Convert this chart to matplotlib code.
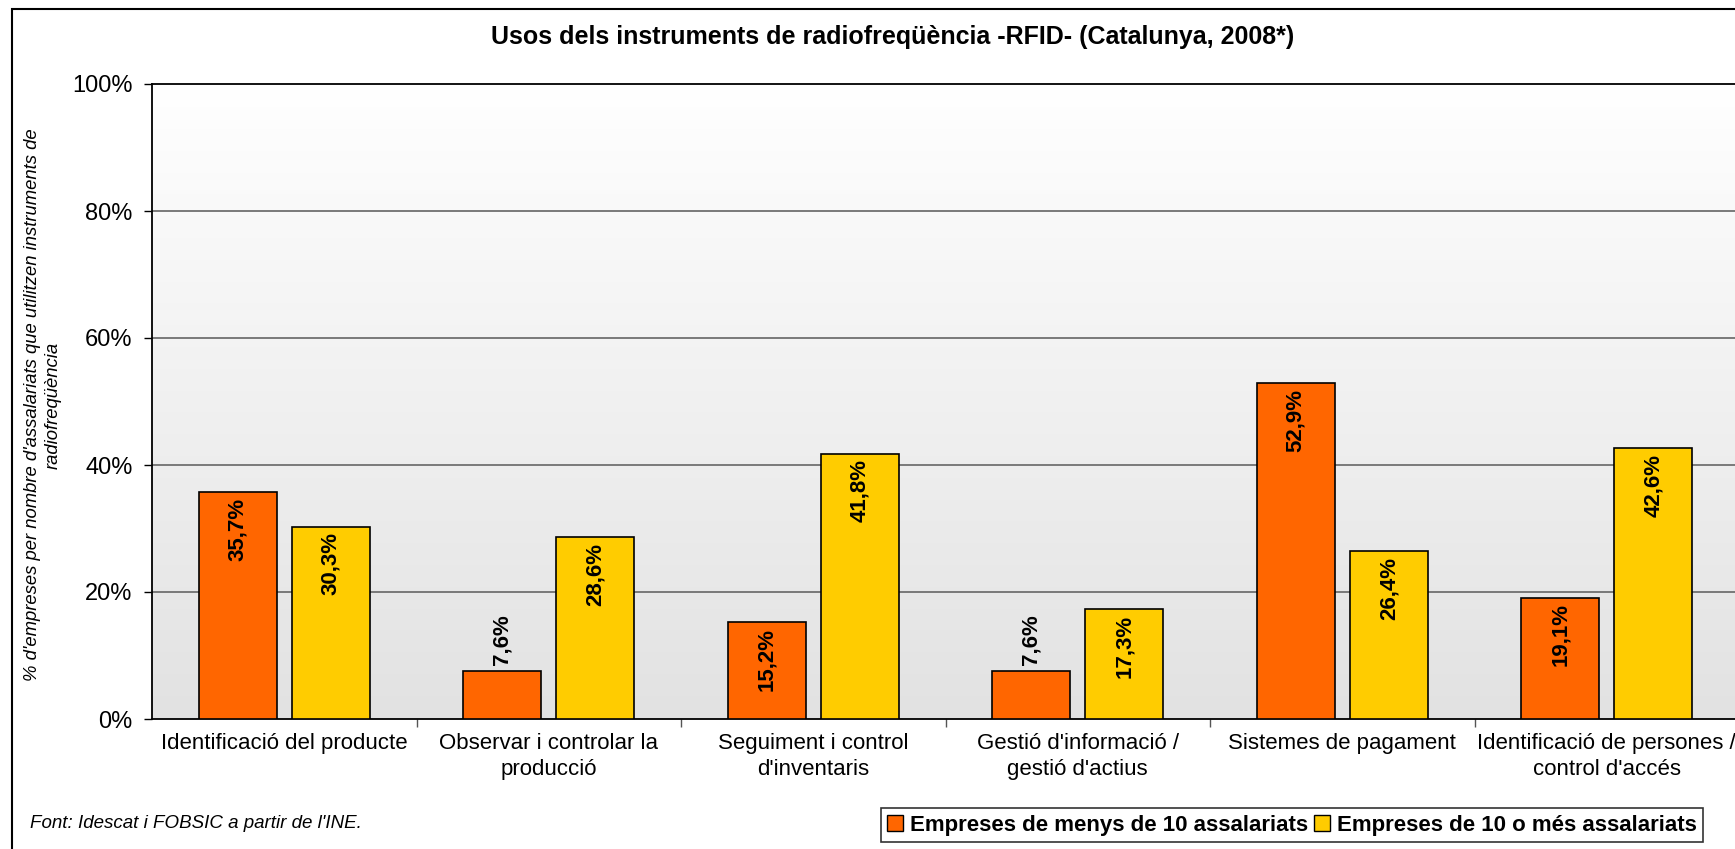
import matplotlib
matplotlib.use('Agg')
import matplotlib.pyplot as plt
import numpy as np
from matplotlib.colors import LinearSegmentedColormap
from matplotlib.patches import Rectangle, Patch

plt.rcParams['font.family'] = ['Liberation Sans', 'DejaVu Sans']

# categories and series
categories = ["Identificació del producte",
              "Observar i controlar la\nproducció",
              "Seguiment i control\nd'inventaris",
              "Gestió d'informació /\ngestió d'actius",
              "Sistemes de pagament",
              "Identificació de persones /\ncontrol d'accés"]
menys10 = [35.7, 7.6, 15.2, 7.6, 52.9, 19.1]
mes10 = [30.3, 28.6, 41.8, 17.3, 26.4, 42.6]
seriesNames = ["Empreses de menys de 10 assalariats", "Empreses de 10 o més assalariats"]
yticks = [0, 20, 40, 60, 80, 100]

colors = ['#FF6600', '#FFCC00']
W, H = 1735, 849

fig = plt.figure(figsize=(W/100., H/100.), dpi=100)
fig.patch.set_facecolor('white')

# outer chart border (cut on the right/bottom like the original)
fig.patches.append(Rectangle((12./W, -0.05), 1.1, 1 - 9./H + 0.05, transform=fig.transFigure,
                             fill=False, edgecolor='black', linewidth=1.5))

ax = fig.add_axes([152./W, 1 - 719./H, (1739. - 152.)/W, (719. - 84.)/H])

# gradient background of the plot area
grad = np.linspace(1, 0, 256).reshape(-1, 1)
cmap = LinearSegmentedColormap.from_list('bg', ['#e2e2e2', '#ffffff'])
ax.imshow(grad, extent=[0, 1, 0, 1], transform=ax.transAxes, aspect='auto',
          cmap=cmap, zorder=0, origin='upper')

x = np.arange(len(categories))
offset = 0.176
width = 0.295
for vals, dx, c in [(menys10, -offset, colors[0]), (mes10, offset, colors[1])]:
    ax.bar(x + dx, vals, width, color=c, edgecolor='black', linewidth=1.2, zorder=3)
    for xi, v in zip(x + dx, vals):
        label = ('%.1f%%' % v).replace('.', ',')
        if v < 10:
            ax.annotate(label, (xi, v), xytext=(0, 4), textcoords='offset points',
                        rotation=90, ha='center', va='bottom', fontsize=16,
                        fontweight='bold', zorder=4)
        else:
            ax.annotate(label, (xi, v), xytext=(0, -4), textcoords='offset points',
                        rotation=90, ha='center', va='top', fontsize=16,
                        fontweight='bold', zorder=4)

ax.set_xlim(-0.5, len(categories) - 0.5)
ax.set_ylim(0, 100)
ax.set_yticks(yticks)
ax.set_yticklabels(['%d%%' % t for t in yticks], fontsize=17)
for t in yticks[1:-1]:
    ax.axhline(t, color='#707070', linewidth=1.3, zorder=1)

ax.set_xticks(np.arange(len(categories) - 1) + 0.5)
ax.set_xticklabels([])
ax.set_xticks(x, minor=True)
ax.set_xticklabels(categories, minor=True, fontsize=16, linespacing=1.35)
ax.tick_params(axis='x', which='minor', length=0, pad=10)
ax.tick_params(axis='x', which='major', length=6, width=1, color='#555555', direction='out')
ax.tick_params(axis='y', length=6, width=1, direction='out', pad=8)

for s in ['left', 'bottom', 'top']:
    ax.spines[s].set_color('black')
    ax.spines[s].set_linewidth(1.3)
ax.spines['right'].set_visible(False)

fig.text(893./W, 1 - 37./H, "Usos dels instruments de radiofreqüència -RFID- (Catalunya, 2008*)",
         ha='center', va='center', fontsize=18, fontweight='bold')

fig.text(43./W, 1 - 405./H,
         "% d'empreses per nombre d'assalariats que utilitzen instruments de\nradiofreqüència",
         rotation=90, ha='center', va='center', fontsize=13.3, style='italic',
         multialignment='center', linespacing=1.3)

fig.text(30./W, 1 - 824./H, "Font: Idescat i FOBSIC a partir de l'INE.",
         ha='left', va='center', fontsize=13.5, style='italic')

handles = [Patch(facecolor=colors[0], edgecolor='black'), Patch(facecolor=colors[1], edgecolor='black')]
leg = fig.legend(handles, seriesNames, loc='center', bbox_to_anchor=(1292./W, 1 - 825./H),
                 ncol=2, frameon=True, fancybox=False, handlelength=0.7, handleheight=0.7,
                 handletextpad=0.3, columnspacing=0.3, borderpad=0.3,
                 prop={'weight': 'bold', 'size': 16})
leg.get_frame().set_edgecolor('black')
leg.get_frame().set_linewidth(1.2)

fig.savefig('out.png', dpi=100)
